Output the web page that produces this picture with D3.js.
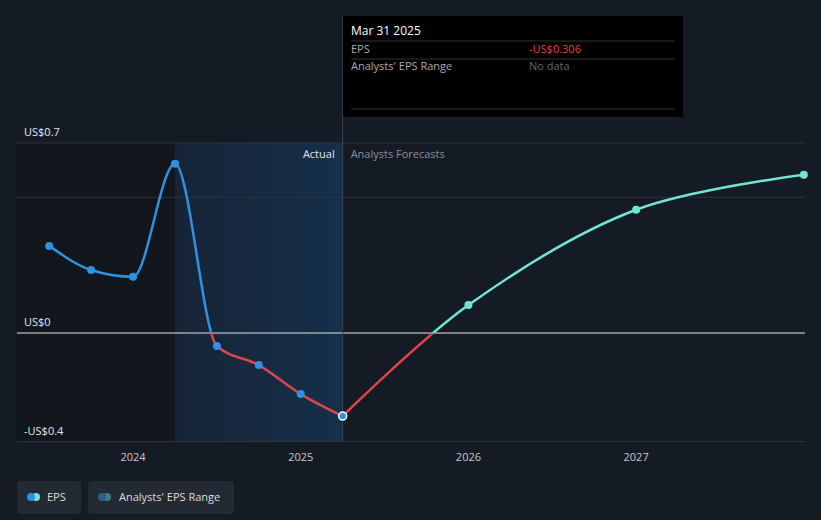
<!DOCTYPE html><html><head><script src="https://cdn.jsdelivr.net/npm/d3@7"></script>
<style>body{margin:0;background:#151b24;font-family:"Open Sans",sans-serif}</style></head><body><svg id="c" width="821" height="520"></svg>
<script>
const actualDates=[2023.5,2023.75,2024.0,2024.25,2024.5,2024.75,2025.0,2025.25];
const actualEPS=[0.321,0.232,0.207,0.624,-0.048,-0.118,-0.225,-0.306];
const fcDates=[2025.25,2026.0,2027.0,2028.0];
const fcEPS=[-0.306,0.103,0.454,0.583];
const yTicks=[{v:0.7,l:"US$0.7"},{v:0,l:"US$0"},{v:-0.4,l:"-US$0.4"}];
const xTicks=[2024,2025,2026,2027];
const svg=d3.select("#c");
const x=d3.scaleLinear().domain([2023.308,2028.007]).range([17,805]);
const y=d3.scaleLinear().domain([-0.4,0.7]).range([441.6,143]);
svg.append("rect").attr("width",821).attr("height",520).attr("fill","#151b24");
svg.append("rect").attr("x",17).attr("y",143).attr("width",x(2024.25)-17).attr("height",441-143).attr("fill","#12161d");
const g=svg.append("defs").append("linearGradient").attr("id","bg").attr("x1",0).attr("x2",1);
g.append("stop").attr("offset","0").attr("stop-color","#172436");
g.append("stop").attr("offset","1").attr("stop-color","#15304b");
svg.append("rect").attr("x",x(2024.25)).attr("y",143).attr("width",x(2025.25)-x(2024.25)).attr("height",441-143).attr("fill","url(#bg)");
[0.7,0.5,0].forEach(v=>svg.append("line").attr("x1",17).attr("x2",805).attr("y1",y(v)).attr("y2",y(v)).attr("stroke",v==0?"#e6e6e6":"#2c333d").attr("stroke-width",1));
svg.append("line").attr("x1",17).attr("x2",805).attr("y1",441.5).attr("y2",441.5).attr("stroke","#2c333d");
yTicks.forEach(t=>svg.append("text").attr("x",24).attr("y",y(t.v)-7).text(t.l).attr("fill","#e6e6e6").attr("font-size",11));
xTicks.forEach(t=>svg.append("text").attr("x",x(t)).attr("y",461).attr("text-anchor","middle").text(t).attr("fill","#c8c8c8").attr("font-size",11));
svg.append("text").attr("x",x(2025.25)-8).attr("y",158).attr("text-anchor","end").text("Actual").attr("fill","#e6e6e6").attr("font-size",11);
svg.append("text").attr("x",x(2025.25)+8).attr("y",158).text("Analysts Forecasts").attr("fill","#8a8f96").attr("font-size",11);
const defs=svg.select("defs");
function sg(id,c1){const gr=defs.append("linearGradient").attr("id",id).attr("gradientUnits","userSpaceOnUse").attr("x1",0).attr("x2",0).attr("y1",y(0.7)).attr("y2",y(-0.4));
const o=(y(0)-y(0.7))/(y(-0.4)-y(0.7));
gr.append("stop").attr("offset",o).attr("stop-color",c1);gr.append("stop").attr("offset",o).attr("stop-color","#e0434b");}
sg("ga","#2d92e0");sg("gf","#6ee6d0");
const line=d3.line().x(d=>x(d[0])).y(d=>y(d[1])).curve(d3.curveMonotoneX);
const fline=d3.line().x(d=>x(d[0])).y(d=>y(d[1])).curve(d3.curveCatmullRom.alpha(0.5));
const A=actualDates.map((d,i)=>[d,actualEPS[i]]),F=fcDates.map((d,i)=>[d,fcEPS[i]]);
svg.append("path").attr("d",line(A)).attr("fill","none").attr("stroke","url(#ga)").attr("stroke-width",2.5);
svg.append("path").attr("d",fline(F)).attr("fill","none").attr("stroke","url(#gf)").attr("stroke-width",2.5);
A.slice(0,-1).forEach(d=>svg.append("circle").attr("cx",x(d[0])).attr("cy",y(d[1])).attr("r",4).attr("fill",d[1]<0?"#2d92e0":"#2d92e0"));
F.slice(1).forEach(d=>svg.append("circle").attr("cx",x(d[0])).attr("cy",y(d[1])).attr("r",4).attr("fill","#6ee6d0"));
svg.append("line").attr("x1",x(2025.25)).attr("x2",x(2025.25)).attr("y1",16).attr("y2",441).attr("stroke","#3a4452");
svg.append("circle").attr("cx",x(2025.25)).attr("cy",y(-0.306)).attr("r",4).attr("fill","#2d92e0").attr("stroke","#fff").attr("stroke-width",1.5);
svg.append("rect").attr("x",343).attr("y",16).attr("width",340).attr("height",101).attr("fill","#000");
svg.append("text").attr("x",351).attr("y",35).text("Mar 31 2025").attr("fill","#fff").attr("font-size",12);
[41,59,109].forEach(r=>svg.append("line").attr("x1",351).attr("x2",675).attr("y1",r).attr("y2",r).attr("stroke","#333"));
svg.append("text").attr("x",351).attr("y",53).text("EPS").attr("fill","#aaa").attr("font-size",11);
svg.append("text").attr("x",529).attr("y",53).text("-US$0.306").attr("fill","#e0434b").attr("font-size",11);
svg.append("text").attr("x",351).attr("y",70).text("Analysts' EPS Range").attr("fill","#aaa").attr("font-size",11);
svg.append("text").attr("x",529).attr("y",70).text("No data").attr("fill","#666").attr("font-size",11);
svg.append("rect").attr("x",17).attr("y",481).attr("width",64).attr("height",33).attr("rx",4).attr("fill","#232a34");
svg.append("rect").attr("x",88).attr("y",481).attr("width",146).attr("height",33).attr("rx",4).attr("fill","#232a34");
svg.append("circle").attr("cx",36).attr("cy",497).attr("r",4).attr("fill","#6ee6d0");
svg.append("circle").attr("cx",31).attr("cy",497).attr("r",4).attr("fill","#2d92e0");
svg.append("text").attr("x",47).attr("y",501).text("EPS").attr("fill","#ddd").attr("font-size",11);
svg.append("circle").attr("cx",107).attr("cy",497).attr("r",4).attr("fill","#3f7f7a");
svg.append("circle").attr("cx",102).attr("cy",497).attr("r",4).attr("fill","#2a5f8a");
svg.append("text").attr("x",119).attr("y",501).text("Analysts' EPS Range").attr("fill","#ddd").attr("font-size",11);
</script></body></html>
